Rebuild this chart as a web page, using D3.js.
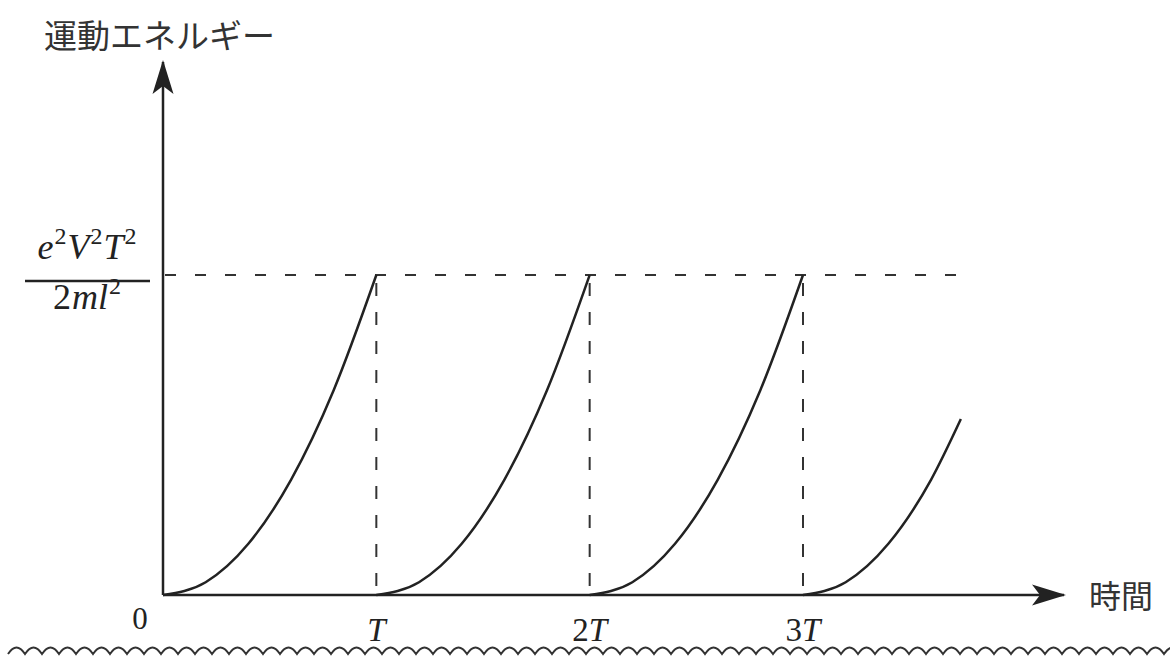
<!DOCTYPE html>
<html>
<head>
<meta charset="utf-8">
<script src="https://d3js.org/d3.v7.min.js"></script>
<style>
  body { margin: 0; background: #fff; overflow: hidden; }
  .jp { font-family: "Noto Sans CJK JP", sans-serif; fill: #333; }
  .math { font-family: "Liberation Serif", "DejaVu Serif", serif; fill: #222; }
</style>
</head>
<body>
<svg id="chart" width="1170" height="657"></svg>
<script>
// time in units of T, energy in units of e^2V^2T^2/(2ml^2)
const periods = [0, 1, 2, 3];
const tickLabels = ["T", "2T", "3T"];
const phase = [0, 0.2, 0.4, 0.6, 0.8, 1.0];
const energy = [0, 0.04, 0.16, 0.36, 0.64, 1.0];
const lastPhase = [0, 0.2, 0.4, 0.6, 0.74];
const lastEnergy = [0, 0.04, 0.16, 0.36, 0.55];

const svg = d3.select("#chart");
const ink = "#222";

const x = d3.scaleLinear().domain([0, 3]).range([163, 803]);
const y = d3.scaleLinear().domain([0, 1]).range([595, 275]);

// arrow marker
const defs = svg.append("defs");
defs.append("marker")
  .attr("id", "arr")
  .attr("viewBox", "0 0 34 24")
  .attr("refX", 32).attr("refY", 12)
  .attr("markerWidth", 34).attr("markerHeight", 24)
  .attr("markerUnits", "userSpaceOnUse")
  .attr("orient", "auto")
  .append("path")
  .attr("d", "M0,1.5 L34,12 L0,22.5 L8,12 Z")
  .attr("fill", ink);

// dashed guides
svg.append("line")
  .attr("x1", x(0) + 2).attr("x2", 962)
  .attr("y1", y(1)).attr("y2", y(1))
  .attr("stroke", "#333").attr("stroke-width", 2)
  .attr("stroke-dasharray", "11 19");

svg.selectAll("line.vguide")
  .data(periods.slice(1))
  .enter().append("line")
  .attr("class", "vguide")
  .attr("x1", d => x(d)).attr("x2", d => x(d))
  .attr("y1", y(1) + 8).attr("y2", y(0))
  .attr("stroke", "#333").attr("stroke-width", 2)
  .attr("stroke-dasharray", "13 16");

// axes
svg.append("line")
  .attr("x1", x(0)).attr("y1", y(0))
  .attr("x2", x(0)).attr("y2", 62)
  .attr("stroke", ink).attr("stroke-width", 2.5)
  .attr("marker-end", "url(#arr)");
svg.append("line")
  .attr("x1", x(0)).attr("y1", y(0))
  .attr("x2", 1064).attr("y2", y(0))
  .attr("stroke", ink).attr("stroke-width", 2.5)
  .attr("marker-end", "url(#arr)");

// curves
const line = d3.line()
  .x(d => x(d[0])).y(d => y(d[1]))
  .curve(d3.curveMonotoneX);

periods.forEach((p, i) => {
  const ph = i < 3 ? phase : lastPhase;
  const en = i < 3 ? energy : lastEnergy;
  const pts = ph.map((f, j) => [p + f, en[j]]);
  svg.append("path")
    .attr("d", line(pts))
    .attr("fill", "none")
    .attr("stroke", ink)
    .attr("stroke-width", 2.5);
});

// tick labels
svg.append("text").attr("class", "math")
  .attr("x", 140).attr("y", 629)
  .attr("text-anchor", "middle")
  .attr("font-size", 31).text("0");

svg.selectAll("text.tick")
  .data(tickLabels)
  .enter().append("text")
  .attr("class", "math tick")
  .attr("x", (d, i) => x(i + 1))
  .attr("y", 641)
  .attr("text-anchor", "middle")
  .attr("font-size", 33)
  .each(function(d) {
    const t = d3.select(this);
    if (d.length > 1) t.append("tspan").text(d[0]);
    t.append("tspan").attr("font-style", "italic").text("T");
  });

// fraction label
const num = svg.append("text").attr("class", "math")
  .attr("x", 87).attr("y", 259)
  .attr("text-anchor", "middle")
  .attr("font-size", 36).attr("font-style", "italic");
[["e", "2"], ["V", "2"], ["T", "2"]].forEach(([b, s], i) => {
  num.append("tspan").attr("dy", i === 0 ? 0 : 15).attr("dx", i === 0 ? 0 : 1).text(b);
  num.append("tspan").attr("font-size", 24).attr("font-style", "normal")
    .attr("dy", -15).attr("dx", 1).text(s);
});
svg.append("line")
  .attr("x1", 25).attr("x2", 150)
  .attr("y1", 281).attr("y2", 281)
  .attr("stroke", ink).attr("stroke-width", 2.5);
const den = svg.append("text").attr("class", "math")
  .attr("x", 87).attr("y", 309)
  .attr("text-anchor", "middle")
  .attr("font-size", 36);
den.append("tspan").text("2");
den.append("tspan").attr("font-style", "italic").attr("dx", 1).text("ml");
den.append("tspan").attr("font-size", 24).attr("dy", -15).attr("dx", 1).text("2");

// axis titles
svg.append("text").attr("class", "jp")
  .attr("x", 44).attr("y", 48)
  .attr("font-size", 33).text("運動エネルギー");
svg.append("text").attr("class", "jp")
  .attr("x", 1089).attr("y", 608)
  .attr("font-size", 32).text("時間");

// wavy cut line at the bottom
const waves = d3.range(8, 1165, 17);
const wave = d3.path();
wave.moveTo(waves[0], 654);
waves.forEach(w => {
  wave.quadraticCurveTo(w + 8.5, 641, w + 17, 654);
});
svg.append("path")
  .attr("d", wave.toString())
  .attr("fill", "none")
  .attr("stroke", "#333")
  .attr("stroke-width", 2);
</script>
</body>
</html>
